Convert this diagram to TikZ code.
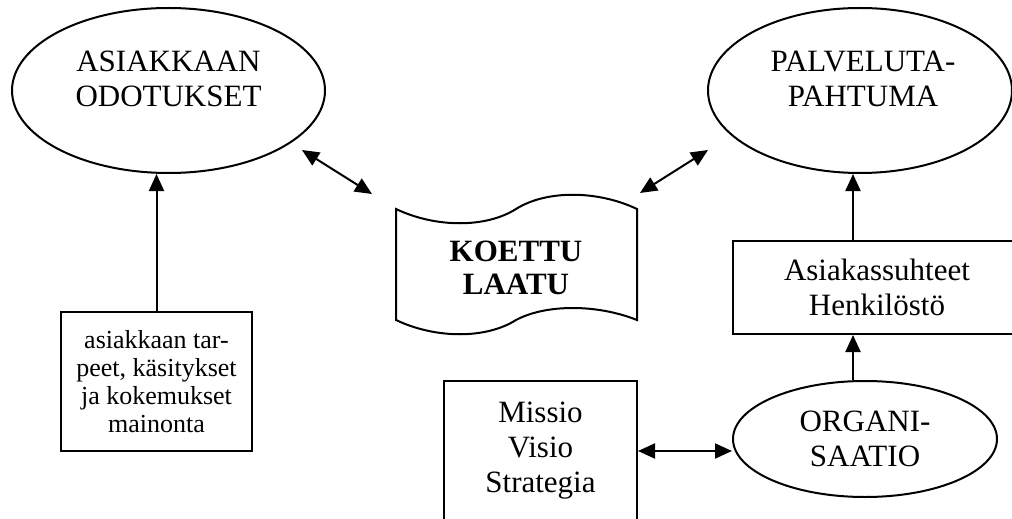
\documentclass[tikz,border=0pt]{standalone}
\usepackage{fontspec}
\setmainfont{Liberation Serif}
\usetikzlibrary{arrows.meta,shapes.geometric}

\begin{document}
\begin{tikzpicture}[x=0.5pt, y=-0.5pt, line width=1pt,
  oval/.style={draw, ellipse, inner sep=0pt, align=center, font=\fontsize{15.5}{17.5}\selectfont},
  box/.style={draw, rectangle, inner sep=0pt, align=center, font=\fontsize{15.5}{17.5}\selectfont},
  big/.style={align=center, font=\fontsize{15.5}{17.5}\selectfont},
  small/.style={align=center, font=\fontsize{13}{14}\selectfont},
  arr/.style={-{Triangle[length=8.5pt, width=7.5pt]}},
  dbl/.style={{Triangle[length=8.5pt, width=7.5pt]}-{Triangle[length=8.5pt, width=7.5pt]}}]
  \useasboundingbox (0,0) rectangle (1012,519);
  \node [oval, minimum width=156.5pt, minimum height=82.5pt] (ao) at (168.5,90.5) {};
  \node [big] (aoT) at (168.5,79) {ASIAKKAAN\\ODOTUKSET};
  \node [oval, minimum width=152pt, minimum height=82.5pt] (pv) at (860,90.5) {};
  \node [big] (pvT) at (863,79) {PALVELUTA-\\PAHTUMA};
  \node [small, draw, inner sep=0pt, minimum width=95.5pt, minimum height=69.5pt] (b1) at (156.5,381.5) {asiakkaan tar-\\peet, käsitykset\\ja kokemukset\\mainonta};
  \node [box, minimum width=144pt, minimum height=46.5pt] (hk) at (877,287.5) {Asiakassuhteet\\Henkilöstö};
  \node [box, minimum width=96.5pt, minimum height=70pt] (mv) at (540.5,451) {Missio\\Visio\\Strategia};
  \node [oval, minimum width=132pt, minimum height=58pt] (org) at (865,439) {ORGANI-\\SAATIO};
  \draw (396,209) .. controls (436,228) and (486,228) .. (516,209)
    .. controls (546,190) and (597,190) .. (637,209) -- (637,320)
    .. controls (597,304) and (546,304) .. (516,320)
    .. controls (486,339) and (436,339) .. (396,320) -- cycle;
  \node [big, font=\fontsize{15.5}{16.5}\selectfont\bfseries] (ku) at (516,268) {KOETTU\\LAATU};
  \coordinate (p1) at (302,150);
  \coordinate (p2) at (372,194);
  \coordinate (p3) at (640,193);
  \coordinate (p4) at (708,150);
  \draw [arr] (b1.north) -- (b1.north |- ao.south);
  \draw [arr] ([xshift=-12pt]hk.north) -- ([xshift=-12pt]hk.north |- pv.south);
  \draw [arr] ([xshift=-6pt]org.north) -- ([xshift=-6pt]org.north |- hk.south);
  \draw [dbl] (mv.east) -- (mv.east -| org.west);
  \draw [dbl] (p1) -- (p2);
  \draw [dbl] (p3) -- (p4);
\end{tikzpicture}
\end{document}
